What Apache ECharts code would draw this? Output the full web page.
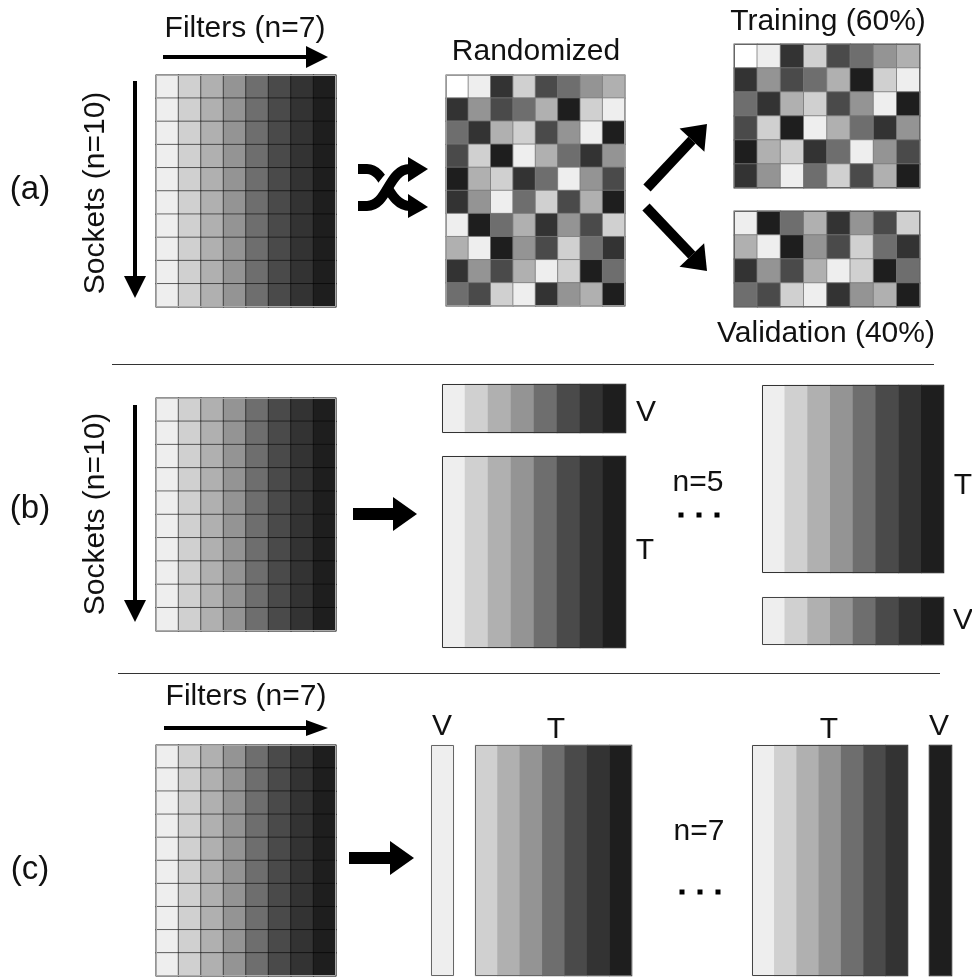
<!DOCTYPE html>
<html><head><meta charset="utf-8">
<style>html,body{margin:0;padding:0;background:#fff}#c{width:972px;height:978px}</style>
<script src="https://cdn.jsdelivr.net/npm/echarts@6/dist/echarts.min.js"></script>
</head><body><div id="c"></div>
<script>
// ---- data: gray level of each cell (0 = white, 1 = lightest ... 8 = darkest)
const levelColors = ['#ffffff','#eeeeee','#d0d0d0','#b0b0b0','#949494','#6e6e6e','#4a4a4a','#333333','#1e1e1e'];
const filterLevels = [1,2,3,4,5,6,7,8];
const randomizedRows = [
  [0,1,7,2,6,5,4,3],
  [7,4,6,5,3,8,2,1],
  [5,7,3,2,6,4,1,8],
  [6,2,8,1,3,5,7,4],
  [8,3,2,7,5,1,4,6],
  [7,4,1,5,2,6,3,8],
  [1,8,5,3,7,4,6,2],
  [3,1,8,4,6,2,5,7],
  [7,4,6,3,1,2,8,5],
  [5,6,2,1,7,4,3,8]
];
const trainingRows = randomizedRows.slice(0,6);
const validationRows = randomizedRows.slice(6);
const repeatRows = (levels,n)=>Array.from({length:n},()=>levels);

// ---- layout
const gridLine='rgba(0,0,0,0.55)', randLine='rgba(120,120,120,0.8)';
const panels=[
  {rows:repeatRows(filterLevels,10),x:156,y:75,w:180,h:232,line:gridLine,frame:'#aaa'},
  {rows:randomizedRows,x:446,y:75,w:179,h:231,line:randLine,frame:'#999'},
  {rows:trainingRows,x:734,y:44,w:186,h:144,line:randLine,frame:'#666'},
  {rows:validationRows,x:734,y:211,w:186,h:96,line:randLine,frame:'#666'},
  {rows:repeatRows(filterLevels,10),x:156,y:398,w:180,h:233,line:gridLine,frame:'#aaa'},
  {rows:[filterLevels],x:442,y:384,w:184,h:49,frame:'#333'},
  {rows:[filterLevels],x:442,y:456,w:184,h:192,frame:'#333'},
  {rows:[filterLevels],x:762,y:385,w:182,h:188,frame:'#333'},
  {rows:[filterLevels],x:762,y:597,w:182,h:48,frame:'#444'},
  {rows:repeatRows(filterLevels,10),x:156,y:745,w:180,h:231,line:gridLine,frame:'#aaa'},
  {rows:[filterLevels.slice(0,1)],x:431,y:745,w:23,h:231,frame:'#666'},
  {rows:[filterLevels.slice(1)],x:475,y:745,w:157,h:231,frame:'#666'},
  {rows:[filterLevels.slice(0,7)],x:752,y:745,w:156,h:231,frame:'#444'},
  {rows:[filterLevels.slice(7)],x:929,y:745,w:23,h:231,frame:'#444'}
];
const texts=[
  ['(a)',30,190,0,33],['(b)',30,509,0,33],['(c)',30,870,0,33],
  ['Filters (n=7)',245,29,0,30],['Filters (n=7)',246,697,0,30],
  ['Sockets (n=10)',96,193,1,30],['Sockets (n=10)',96,514,1,30],
  ['Randomized',536,52,0,30],['Training (60%)',828,22,0,30],['Validation (40%)',826,334,0,30],
  ['V',646,413,0,30],['T',645,551,0,30],['T',963,486,0,30],['V',963,621,0,30],['n=5',698,483,0,30],['n=7',699,832,0,30],
  ['V',442,727,0,30],['T',556,730,0,30],['T',829,730,0,30],['V',939,727,0,30]
];
// [x1,y1,x2,y2,shaft width,head length,head half width]
const arrows=[
  [163,57,328,57,4,22,11],[135,81,135,298,4,22,11],
  [647,188,707,124,10,22,17],[646,207,707,271,10,22,17],
  [135,405,135,622,4,22,11],[353,514,417,514,12,24,17],
  [164,728,328,728,4,22,8],[349,858,414,858,12,24,17]
];
const separators=[[112,364,934,364],[118,673,940,673]];
const dots=[[681,515],[699,515],[717,515],[682,892],[700,892],[718,892]];

const grid=[],xAxis=[],yAxis=[],series=[],graphic=[];
panels.forEach((p,i)=>{
  grid.push({left:p.x,top:p.y,width:p.w,height:p.h,containLabel:false});
  xAxis.push({type:'category',gridIndex:i,show:false,data:p.rows[0].map((_,k)=>k)});
  yAxis.push({type:'category',gridIndex:i,show:false,inverse:true,data:p.rows.map((_,k)=>k)});
  const data=[];
  p.rows.forEach((r,ry)=>r.forEach((v,cx)=>data.push([cx,ry,v])));
  series.push({type:'heatmap',xAxisIndex:i,yAxisIndex:i,data,silent:true,progressive:0,
    itemStyle:p.line?{borderColor:p.line,borderWidth:1}:{borderWidth:0},
    emphasis:{disabled:true}});
  graphic.push({type:'rect',z:50,silent:true,shape:{x:p.x+.5,y:p.y+.5,width:p.w-1,height:p.h-1},
    style:{fill:'none',stroke:p.frame,lineWidth:1}});
});
texts.forEach(([t,x,y,rot,size])=>graphic.push({type:'text',z:60,silent:true,x,y,rotation:rot?Math.PI/2:0,
  style:{text:t,fill:'#111',font:size+'px "Liberation Sans"',textAlign:'center',textVerticalAlign:'middle'}}));
arrows.forEach(([x1,y1,x2,y2,sw,hl,hw])=>{
  const L=Math.hypot(x2-x1,y2-y1),ux=(x2-x1)/L,uy=(y2-y1)/L,bx=x2-ux*hl,by=y2-uy*hl;
  graphic.push({type:'line',z:60,silent:true,shape:{x1,y1,x2:bx,y2:by},style:{stroke:'#000',lineWidth:sw}});
  graphic.push({type:'polygon',z:60,silent:true,shape:{points:[[x2,y2],[bx-uy*hw,by+ux*hw],[bx+uy*hw,by-ux*hw]]},style:{fill:'#000'}});
});
separators.forEach(([x1,y1,x2,y2])=>graphic.push({type:'line',z:60,silent:true,shape:{x1,y1:y1+.5,x2,y2:y2+.5},style:{stroke:'#333',lineWidth:1}}));
dots.forEach(([x,y])=>graphic.push({type:'rect',z:60,silent:true,shape:{x:x-2.5,y:y-2.5,width:5,height:5},style:{fill:'#000'}}));
// shuffle icon
const curve=(x1,y1,cpx1,cpy1,cpx2,cpy2,x2,y2,stroke,w,z)=>graphic.push({type:'bezierCurve',z,silent:true,
  shape:{x1,y1,cpx1,cpy1,cpx2,cpy2,x2,y2},style:{fill:'none',stroke,lineWidth:w}});
const stub=(x1,y,x2)=>graphic.push({type:'line',z:60,silent:true,shape:{x1,y1:y,x2,y2:y},style:{stroke:'#000',lineWidth:10}});
stub(358,169,367); stub(358,206,367);
curve(367,169,386,169,388,206,410,206,'#000',10,60);
curve(376,198,384,190,392,170,410,169,'#fff',15,61);
curve(367,206,388,206,388,169,410,169,'#000',10,62);
[[408,157,428,169,408,182],[408,194,428,207,408,218]].forEach(a=>graphic.push({type:'polygon',z:62,silent:true,
  shape:{points:[[a[0],a[1]],[a[2],a[3]],[a[4],a[5]]]},style:{fill:'#000'}}));

const chart=echarts.init(document.getElementById('c'),null,{renderer:'canvas'});
chart.setOption({animation:false,backgroundColor:'#fff',tooltip:{show:false},
  visualMap:{show:false,type:'piecewise',dimension:2,seriesIndex:series.map((_,i)=>i),
    pieces:levelColors.map((color,value)=>({value,color}))},
  grid,xAxis,yAxis,series,graphic:{elements:graphic}});
</script></body></html>
